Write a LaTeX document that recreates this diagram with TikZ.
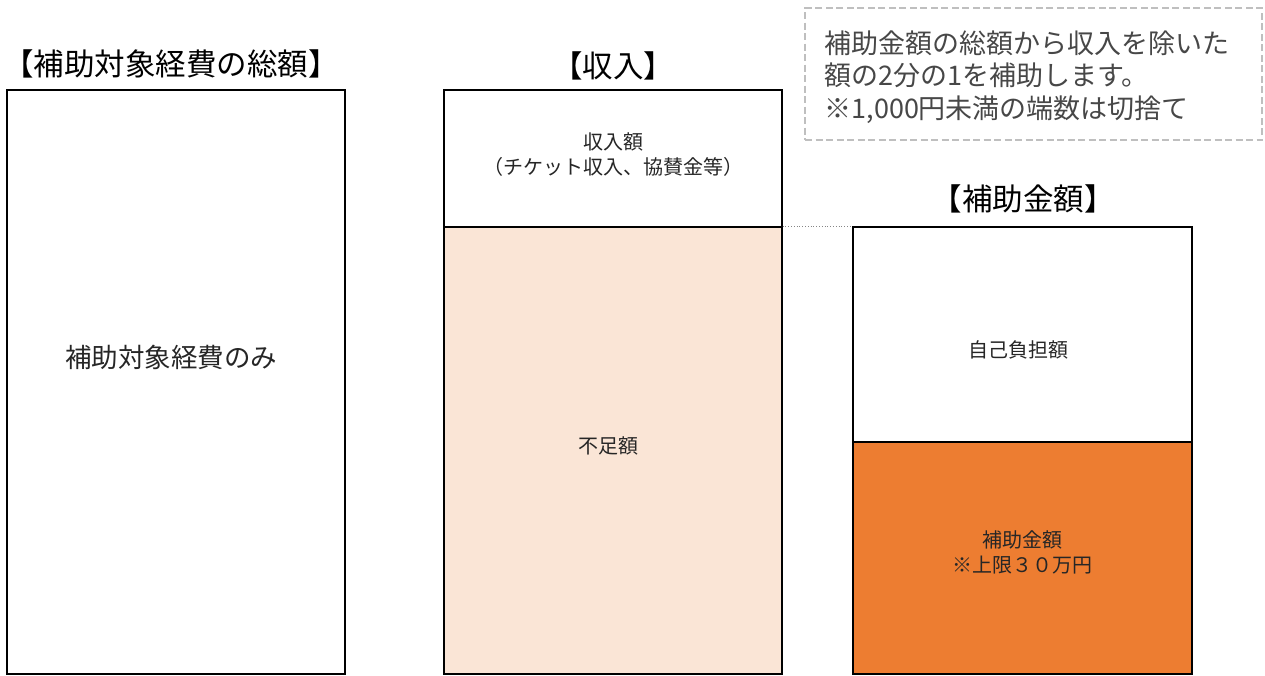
\documentclass[tikz,border=0pt]{standalone}
\usepackage{fontspec}
\setmainfont{Noto Sans CJK JP}
\usepackage{tikz}
\usetikzlibrary{positioning}
\usepackage{color}
\definecolor{peach}{RGB}{250, 229, 214}
\definecolor{carrot}{RGB}{237, 125, 49}
\definecolor{silver}{RGB}{191, 191, 191}
\definecolor{ink}{RGB}{38, 38, 38}

\begin{document}
\begin{tikzpicture}[x=1pt, y=-1pt,
        block/.style   = {draw=black, line width=1.2pt, rectangle, inner sep=0pt},
        heading/.style = {font=\fontsize{30.5}{36}\selectfont, text=black},
        caption/.style = {font=\fontsize{20}{25}\selectfont, text=ink, align=center},
        note/.style    = {font=\fontsize{27}{32.5}\selectfont, text=ink!85, align=left}]
            \useasboundingbox (0, 0) rectangle (1265, 675);
            % boxes
            \node[block, minimum width=338pt, minimum height=584pt]               (total)     at ( 176.0, 382.0) {};
            \node[block, minimum width=338pt, minimum height=137pt]               (income)    at ( 613.0, 158.5) {};
            \node[block, minimum width=338pt, minimum height=447pt, fill=peach]   (shortfall) at ( 613.0, 450.5) {};
            \node[block, minimum width=339pt, minimum height=215pt]               (selfpay)   at (1022.5, 334.5) {};
            \node[block, minimum width=339pt, minimum height=232pt, fill=carrot]  (subsidy)   at (1022.5, 558.0) {};
            \node[draw=silver, dash pattern=on 7pt off 3.5pt, line width=1.5pt, minimum width=457pt, minimum height=132pt] (rule) at (1033.5, 74.0) {};
            \draw[silver!70!black, dotted, line width=0.8pt] (shortfall.north east) -- (selfpay.north west);
            % headings
            \node[heading] (totalhead)   at ( 171.0,  64.0) {【補助対象経費の総額】};
            \node[heading] (incomehead)  at ( 613.0,  66.0) {【収入】};
            \node[heading] (subsidyhead) at (1023.0, 199.0) {【補助金額】};
            % captions
            \node[caption, font=\fontsize{26.5}{32}\selectfont] (totaltext) at ( 171.0, 357.0) {補助対象経費のみ};
            \node[caption] (incometext)    at ( 613.0, 155.0) {収入額\\（チケット収入、協賛金等）};
            \node[caption] (shortfalltext) at ( 608.0, 446.0) {不足額};
            \node[caption] (selfpaytext)   at (1018.0, 350.0) {自己負担額};
            \node[caption] (subsidytext)   at (1022.0, 552.0) {補助金額\\※上限３０万円};
            \node[note, anchor=west] (ruletext) at (821.0, 77.0) {補助金額の総額から収入を除いた\\額の2分の1を補助します。\\※1,000円未満の端数は切捨て};
        \end{tikzpicture}
\end{document}
